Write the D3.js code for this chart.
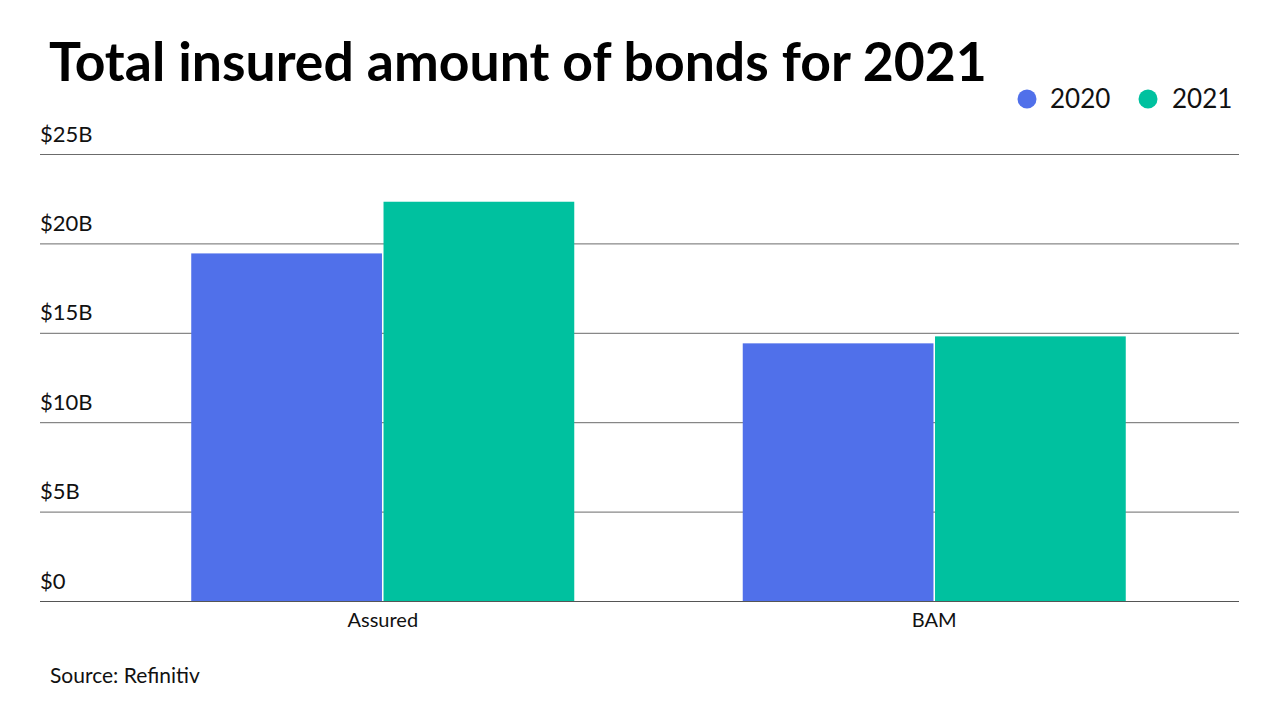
<!DOCTYPE html>
<html><head><meta charset="utf-8">
<script src="https://cdn.jsdelivr.net/npm/d3@7"></script>
<style>body{margin:0;background:#fff}svg{display:block}text{font-family:Lato,"Noto Sans",sans-serif}</style>
</head><body>
<svg id="c" width="1280" height="720"></svg>
<script>
const categories = ["Assured", "BAM"];
const seriesNames = ["2020", "2021"];
const values2020 = [19.44, 14.41];
const values2021 = [22.33, 14.80];
const yTicks = [0, 5, 10, 15, 20, 25];
const yTickLabels = ["$0", "$5B", "$10B", "$15B", "$20B", "$25B"];
const colors = ["#5070ea", "#00c19f"];

const svg = d3.select("#c");
const y = d3.scaleLinear().domain([0, 25]).range([601, 154]);
const x = d3.scaleBand().domain(categories).range([107, 1210]).paddingInner(0.3055).paddingOuter(0.3055/2);
const xi = d3.scaleBand().domain(seriesNames).range([0, x.bandwidth()]).paddingInner(0.008);

// title
svg.append("text").attr("x", 49).attr("y", 81).attr("font-size", 53.5).attr("font-weight", 700)
  .attr("fill", "#000").text("Total insured amount of bonds for 2021");

// legend
const leg = [{n: seriesNames[0], cx: 1027, tx: 1050}, {n: seriesNames[1], cx: 1148, tx: 1172}];
leg.forEach((l, i) => {
  svg.append("circle").attr("cx", l.cx).attr("cy", 99).attr("r", 9.5).attr("fill", colors[i]);
  svg.append("text").attr("x", l.tx).attr("y", 108).attr("font-size", 26).attr("fill", "#111").text(l.n);
});

// gridlines + labels
const yAxis = d3.axisLeft(y).tickValues(yTicks).tickSize(-(1239 - 40)).tickFormat((d, i) => yTickLabels[i]);
const ga = svg.append("g").attr("transform", "translate(40,0)").call(yAxis);
ga.select(".domain").remove();
ga.selectAll(".tick line").attr("stroke", "#6b6b6b").attr("stroke-width", 1);
ga.selectAll(".tick text").attr("x", 0).attr("dy", -13).attr("text-anchor", "start")
  .attr("font-size", 22).attr("fill", "#111").attr("font-family", "Lato");

// bars
const data = categories.map((c, i) => ({c, vals: [values2020[i], values2021[i]]}));
const g = svg.append("g");
data.forEach(d => {
  d.vals.forEach((v, j) => {
    g.append("rect").attr("x", x(d.c) + xi(seriesNames[j])).attr("y", y(v))
      .attr("width", xi.bandwidth()).attr("height", y(0) - y(v)).attr("fill", colors[j]);
  });
});

// baseline
svg.append("line").attr("x1", 40).attr("x2", 1239).attr("y1", y(0)+0.5).attr("y2", y(0)+0.5).attr("stroke", "#555");

// x axis labels
const xAxis = d3.axisBottom(x).tickSize(0).tickPadding(9);
const gx = svg.append("g").attr("transform", `translate(0,${y(0)})`).call(xAxis);
gx.select(".domain").remove();
gx.selectAll(".tick text").attr("font-size", 20).attr("fill", "#111").attr("font-family", "Lato").attr("dy", "0.85em");

// source
svg.append("text").attr("x", 50).attr("y", 683).attr("font-size", 21).attr("fill", "#111").text("Source: Refinitiv");
</script>
</body></html>
